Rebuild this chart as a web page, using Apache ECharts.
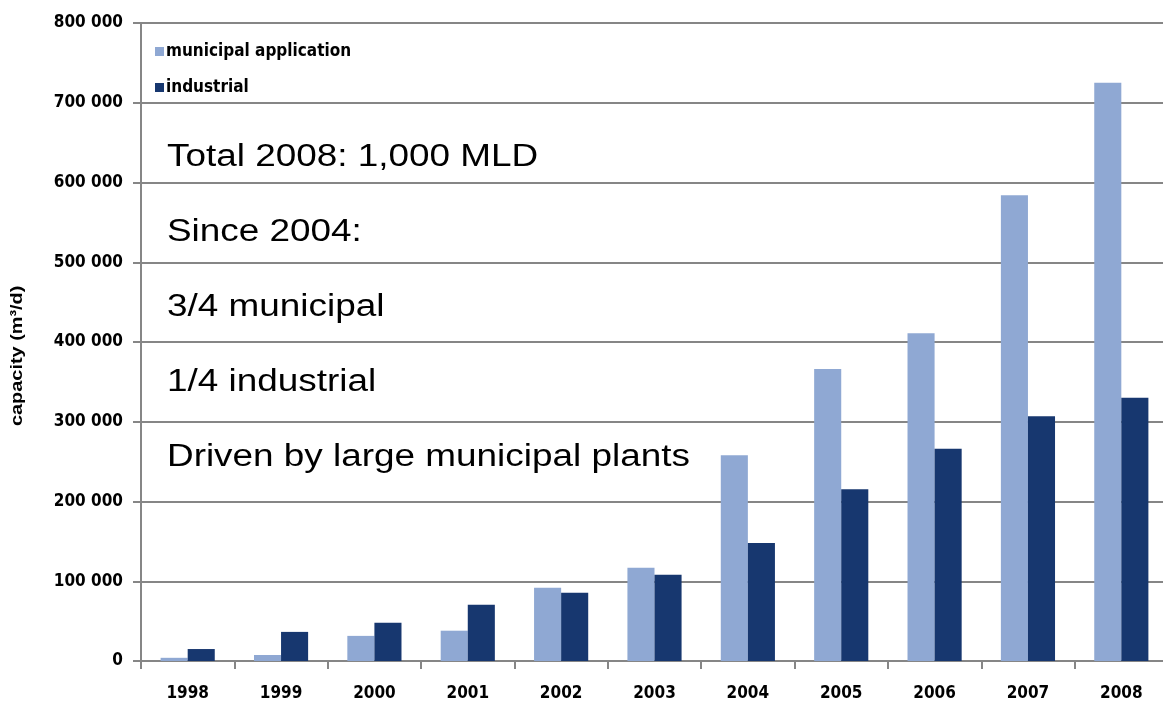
<!DOCTYPE html>
<html>
<head>
<meta charset="utf-8">
<script src="https://cdn.jsdelivr.net/npm/echarts@6/dist/echarts.min.js"></script>
<style>
  html, body { margin: 0; padding: 0; background: #fff; overflow: hidden; }
  /* canvas a little wider than the window: the last category is cut at the right edge */
  #chart { width: 1172px; height: 706px; }
</style>
</head>
<body>
<div id="chart"></div>
<script>
// Desalination capacity by year, m³/d
const years = ['1998', '1999', '2000', '2001', '2002', '2003', '2004', '2005', '2006', '2007', '2008'];
const municipal = [4000, 7500, 31500, 38000, 92000, 117000, 258000, 366000, 411000, 584000, 725000];
const industrial = [15000, 36500, 48000, 70500, 85500, 108000, 148000, 215500, 266000, 307000, 330000];
const seriesNames = ['municipal application', 'industrial'];
const notes = ['Total 2008: 1,000 MLD', 'Since 2004:', '3/4 municipal', '1/4 industrial', 'Driven by large municipal plants'];
const yAxisTitle = 'capacity (m³/d)';

const narrow = '"DejaVu Sans Condensed", "Liberation Sans", Arial, sans-serif';
const gridColor = '#868686';

const chart = echarts.init(document.getElementById('chart'));

// Annotation block on the left of the plot, slightly widened type
const noteGraphics = notes.map((t, i) => ({
  type: 'text',
  x: 167,
  y: 142 + i * 75,
  scaleX: 1.19,
  style: {
    text: t,
    fill: '#000',
    font: '31px "Liberation Sans", Arial, sans-serif'
  }
}));

noteGraphics.push({
  type: 'text',
  x: 9,
  y: 426,
  rotation: Math.PI / 2,
  scaleX: 1.17,
  style: {
    text: yAxisTitle,
    fill: '#000',
    font: 'bold 17px "Liberation Sans", Arial, sans-serif'
  }
});

chart.setOption({
  animation: false,
  textStyle: { fontFamily: narrow },
  grid: { left: 141, right: 4, top: 23, bottom: 45, containLabel: false },
  legend: {
    orient: 'vertical',
    left: 150,
    top: 38,
    itemWidth: 9,
    itemHeight: 9,
    itemGap: 19,
    icon: 'rect',
    data: seriesNames,
    textStyle: { fontFamily: narrow, fontWeight: 'bold', fontSize: 17, color: '#000', padding: [0, 0, 0, -3] }
  },
  xAxis: {
    type: 'category',
    data: years,
    axisLine: { lineStyle: { color: gridColor, width: 2 } },
    axisTick: { show: true, length: 8, lineStyle: { color: gridColor, width: 2 } },
    axisLabel: { color: '#000', fontSize: 17, fontWeight: 'bold', margin: 24, fontFamily: narrow }
  },
  yAxis: {
    type: 'value',
    min: 0,
    max: 800000,
    interval: 100000,
    axisLine: { show: true, lineStyle: { color: gridColor, width: 2 } },
    axisTick: { show: true, length: 8, lineStyle: { color: gridColor, width: 2 } },
    splitLine: { lineStyle: { color: gridColor, width: 2 } },
    axisLabel: {
      color: '#000',
      fontSize: 17,
      fontWeight: 'bold',
      margin: 18,
      fontFamily: narrow,
      formatter: v => String(v).replace(/\B(?=(\d{3})+(?!\d))/g, ' ')
    }
  },
  series: [
    {
      name: seriesNames[0],
      type: 'bar',
      data: municipal,
      barGap: '0%',
      barCategoryGap: '42%',
      itemStyle: { color: '#8FA8D3' }
    },
    {
      name: seriesNames[1],
      type: 'bar',
      data: industrial,
      barGap: '0%',
      barCategoryGap: '42%',
      itemStyle: { color: '#17376F' }
    }
  ],
  graphic: noteGraphics
});
</script>
</body>
</html>
